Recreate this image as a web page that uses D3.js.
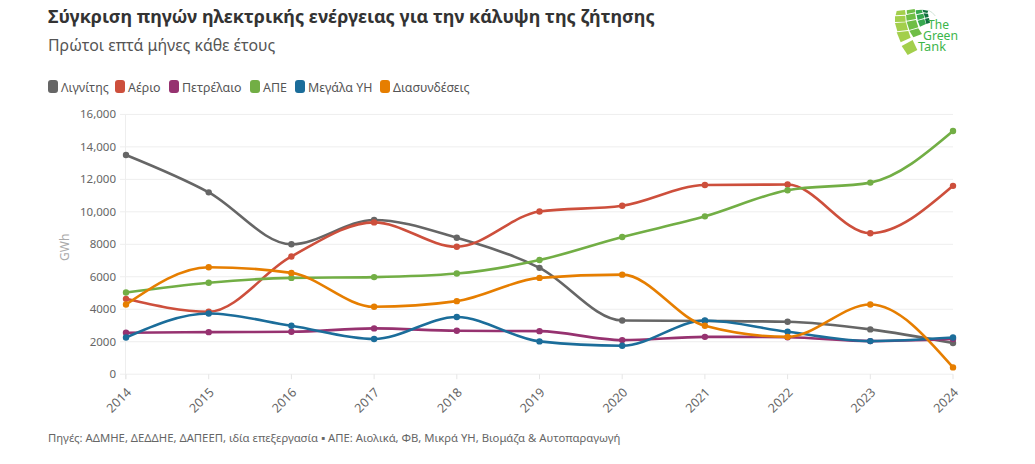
<!DOCTYPE html>
<html><head><meta charset="utf-8">
<script src="https://cdn.jsdelivr.net/npm/d3@7"></script>
<style>html,body{margin:0;padding:0;background:#fff}svg{display:block}text{font-family:"Noto Sans",sans-serif}</style>
</head><body><svg id="c" width="1035" height="464"></svg>
<script>
const years=[2014,2015,2016,2017,2018,2019,2020,2021,2022,2023,2024];
const yTicks=[0,2000,4000,6000,8000,10000,12000,14000,16000];
const names=["Λιγνίτης","Αέριο","Πετρέλαιο","ΑΠΕ","Μεγάλα ΥΗ","Διασυνδέσεις"];
const colors=["#666666","#cd4f3c","#963270","#72ae45","#1b6d9a","#e67e00"];
const lignite=[13500,11200,8000,9500,8400,6550,3310,3280,3230,2760,1920];
const gas=[4640,3850,7250,9350,7850,10020,10370,11650,11680,8680,11600];
const oil=[2550,2590,2610,2820,2675,2650,2100,2300,2280,2040,2170];
const res=[5030,5630,5930,5980,6200,7030,8450,9720,11330,11800,14980];
const hydro=[2260,3740,2980,2165,3520,2020,1750,3310,2610,2040,2260];
const inter=[4290,6590,6240,4150,4500,5930,6130,2980,2300,4290,420];
const seriesValues=[lignite,gas,oil,res,hydro,inter];

const svg=d3.select("#c");
const x=d3.scaleLinear().domain([2014,2024]).range([126,953]);
const y=d3.scaleLinear().domain([0,16000]).range([374.2,114.4]);
const F=d3.format(",");
const fy=v=>v>=10000?F(v):String(v);

svg.append("text").attr("x",48).attr("y",23).attr("font-size",18).attr("font-weight",700).attr("fill","#333")
 .text("Σύγκριση πηγών ηλεκτρικής ενέργειας για την κάλυψη της ζήτησης");
svg.append("text").attr("x",48).attr("y",51).attr("font-size",15.9).attr("fill","#555").text("Πρώτοι επτά μήνες κάθε έτους");

const legendX=[48,115,169,250,295,380];
names.forEach((n,i)=>{
 svg.append("rect").attr("x",legendX[i]).attr("y",80).attr("width",10).attr("height",13).attr("rx",3).attr("fill",colors[i]);
 svg.append("text").attr("x",legendX[i]+13).attr("y",92).attr("font-size",12.4).attr("fill","#555").text(n);
});

const gy=svg.append("g");
yTicks.forEach(t=>{
 gy.append("line").attr("x1",120).attr("x2",953).attr("y1",y(t)).attr("y2",y(t)).attr("stroke","#eeeeee");
 gy.append("text").attr("x",116).attr("y",y(t)+4).attr("text-anchor","end").attr("font-size",11.5).attr("fill","#666").text(fy(t));
});
gy.append("line").attr("x1",125.5).attr("x2",125.5).attr("y1",y(16000)).attr("y2",y(0)+5).attr("stroke","#eeeeee");
years.forEach(t=>{
 const X=x(t);
 gy.append("line").attr("x1",X).attr("x2",X).attr("y1",y(0)).attr("y2",y(0)+5).attr("stroke","#e5e5e5");
 gy.append("text").attr("transform",`translate(${X+6},${y(0)+19}) rotate(-45)`).attr("text-anchor","end").attr("font-size",12.5).attr("fill","#666").text(t);
});
svg.append("text").attr("transform",`translate(69,${y(8000)+3}) rotate(-90)`).attr("text-anchor","middle").attr("font-size",12).attr("fill","#aaa").text("GWh");

const line=d3.line().x((d,i)=>x(years[i])).y(d=>y(d)).curve(d3.curveMonotoneX);
seriesValues.forEach((vals,i)=>{
 const g=svg.append("g");
 g.append("path").attr("d",line(vals)).attr("fill","none").attr("stroke",colors[i]).attr("stroke-width",2.6);
 g.selectAll("circle").data(vals).join("circle").attr("cx",(d,j)=>x(years[j])).attr("cy",d=>y(d)).attr("r",3.2).attr("fill",colors[i]);
});

svg.append("text").attr("x",48).attr("y",442).attr("font-size",11.3).attr("fill","#666")
 .text("Πηγές: ΑΔΜΗΕ, ΔΕΔΔΗΕ, ΔΑΠΕΕΠ, ιδία επεξεργασία ▪ ΑΠΕ: Αιολικά, ΦΒ, Μικρά ΥΗ, Βιομάζα & Αυτοπαραγωγή");

// logo (decoration)
const logo=svg.append("g");
const logoG=logo.append("g").attr("transform","translate(860,0) scale(0.3333)");
[
 ["#a3cf4c",[[110,33,135,30,137,44,107,46],[105,49,136,47,137,65,105,66],[105,69,138,67,144,90,112,94],[110,97,145,93,152,113,122,127],[125,138,158,120,172,150,143,165]]],
 ["#6fbe46",[[140,31,164,27,166,37,141,42],[138,45,165,40,168,57,140,62],[140,65,168,60,175,82,148,90],[148,92,175,85,186,102,160,112]]],
 ["#37a84f",[[167,31,185,29,188,38,169,43],[170,45,190,41,193,54,173,60],[173,62,193,57,198,72,180,80]]],
 ["#0f6f3e",[[187,29,205,32,202,39,190,37],[191,40,204,41,206,51,195,53],[195,56,207,54,210,68,199,72]]]
].forEach(([c,ps])=>ps.forEach(p=>logoG.append("polygon").attr("points",p.join(",")).attr("fill",c)));
logoG.append("path").attr("d","M205,31 Q218,36 226,48").attr("fill","none").attr("stroke","#bcd8c4").attr("stroke-width",2);
[["The",928,29,21],["Green",923,40,35],["Tank",918,51,28]].forEach(d=>{
 logo.append("text").attr("x",d[1]).attr("y",d[2]).attr("font-size",13).attr("fill","#3cb54a")
  .attr("textLength",d[3]).attr("lengthAdjust","spacingAndGlyphs").text(d[0]);
});
</script></body></html>
